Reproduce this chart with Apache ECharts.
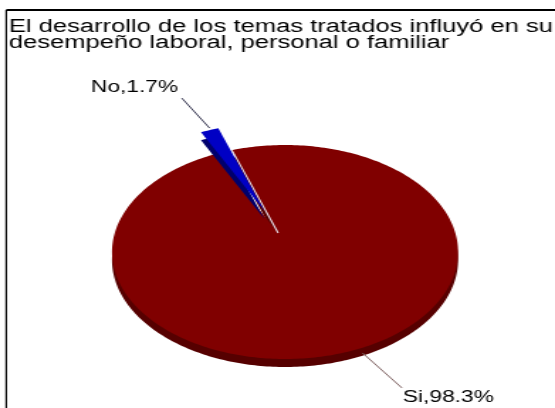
<!DOCTYPE html>
<html><head><meta charset="utf-8">
<script src="https://cdn.jsdelivr.net/npm/echarts@6/dist/echarts.min.js"></script>
<style>
html,body{margin:0;padding:0;background:#fff;overflow:hidden}
#c{width:391px;height:408px;transform:scaleX(1.41944);transform-origin:0 0}
</style>
</head><body><div id="c"></div>
<script>
// ---- data ----
const titleLines = ['El desarrollo de los temas tratados influyó en su', 'desempeño laboral, personal o familiar'];
const categories = ['No', 'Si'];
const values = [1.7, 98.3];

// ---- styling ----
const topColors = ['#0000c4', '#800000'];
const sideColors = ['#00006c', '#560000'];
const explode = [0.22, 0];
const labelLineColors = ['#34344f', '#806464'];
const labelAnchorOff = [[0, -2], [11, 1]];
const labelLineVec = [[-19.6, -30], [27.8, 35]];
const labelTextOff = [[-2.6, -10], [0.7, 10]];
const startAngle = 114;      // degrees, slices go clockwise
const APEX = [-0.04, 0.178]; // perspective centre of the tilted pie
const DEPTH = 8;             // pixel thickness of the pie
const FONT = '"Liberation Sans", Arial, sans-serif';

const total = values.reduce((a, b) => a + b, 0);
let acc = startAngle;
const seriesData = values.map((v, i) => {
  const a0 = acc, a1 = acc - v / total * 360;
  acc = a1;
  return { name: categories[i], value: [a0, a1, i, v] };
});

function renderItem(params, api) {
  const a0 = api.value(0), a1 = api.value(1), i = api.value(2), v = api.value(3);
  const mid = (a0 + a1) / 2 * Math.PI / 180;
  const ex = explode[i];
  const ox = ex * Math.cos(mid), oy = ex * Math.sin(mid);
  const apex = api.coord([APEX[0] + ox, APEX[1] + oy]);
  const pts = [apex];
  const n = Math.max(2, Math.ceil(Math.abs(a0 - a1)));
  for (let k = 0; k <= n; k++) {
    const t = (a0 + (a1 - a0) * k / n) * Math.PI / 180;
    pts.push(api.coord([ox + Math.cos(t), oy + Math.sin(t)]));
  }
  const shifted = pts.map(p => [p[0], p[1] + DEPTH]);
  const base = ex > 0 ? 10 : 0;
  const children = [
    { type: 'polygon', z2: base + 1, shape: { points: shifted }, style: { fill: sideColors[i] } },
    { type: 'polygon', z2: base + 2, shape: { points: pts }, style: { fill: topColors[i] } }
  ];
  if (ex === 0) {
    children.push({ type: 'line', z2: base + 3, shape: { x1: apex[0], y1: apex[1], x2: pts[1][0], y2: pts[1][1] },
      style: { stroke: '#e6dce6', lineWidth: 1.1 } });
  }
  const rim = api.coord([ox + Math.cos(mid), oy + Math.sin(mid)]);
  const anchor = [rim[0] + labelAnchorOff[i][0], rim[1] + labelAnchorOff[i][1]];
  const end = [anchor[0] + labelLineVec[i][0], anchor[1] + labelLineVec[i][1]];
  children.push({ type: 'line', z2: 30, shape: { x1: anchor[0], y1: anchor[1], x2: end[0], y2: end[1] },
    style: { stroke: labelLineColors[i], lineWidth: 1 } });
  children.push({ type: 'text', z2: 31, x: end[0] + labelTextOff[i][0], y: end[1] + labelTextOff[i][1],
    style: { text: categories[i] + ',' + v.toFixed(1) + '%', fill: '#000', fontSize: 16, fontFamily: FONT,
      align: labelLineVec[i][0] < 0 ? 'right' : 'left', verticalAlign: 'middle' } });
  return { type: 'group', children };
}

const chart = echarts.init(document.getElementById('c'), null, { renderer: 'canvas' });
chart.setOption({
  animation: false,
  backgroundColor: '#fff',
  title: {
    text: titleLines.join('\n'), left: 6.3, top: 18.5, padding: 0,
    textStyle: { fontFamily: FONT, fontSize: 18, fontWeight: 'normal', color: '#000', lineHeight: 16.6 }
  },
  graphic: [
    { type: 'line', shape: { x1: 4.4, y1: 10, x2: 420, y2: 10 }, style: { stroke: '#000', lineWidth: 2 } },
    { type: 'line', shape: { x1: 4.4, y1: 10, x2: 4.4, y2: 430 }, style: { stroke: '#000', lineWidth: 1.2 } }
  ],
  grid: { left: 78.9, top: 145, width: 243.8, height: 214 },
  xAxis: { type: 'value', min: -1, max: 1, show: false },
  yAxis: { type: 'value', min: -1, max: 1, show: false },
  series: [{
    type: 'custom', clip: false, silent: true,
    encode: { x: 0, y: 1 },
    renderItem, data: seriesData
  }]
});
</script>
</body></html>
